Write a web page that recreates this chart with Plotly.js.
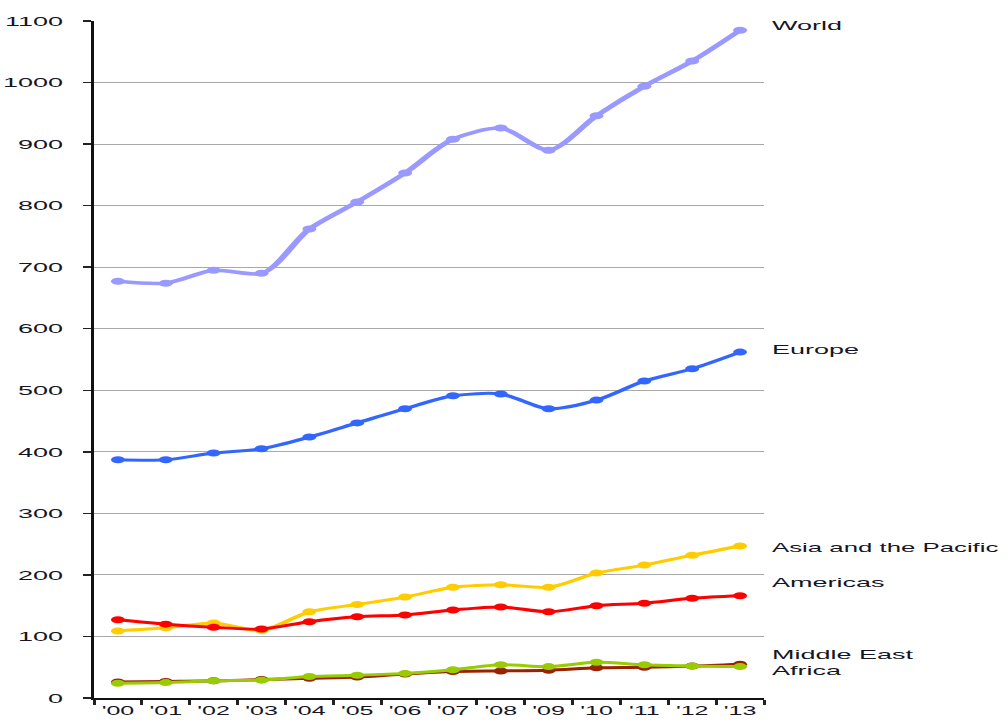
<!DOCTYPE html>
<html>
<head>
<meta charset="utf-8">
<script src="https://cdn.plot.ly/plotly-3.0.1.min.js"></script>
<style>
  html, body { margin: 0; padding: 0; background: #ffffff; overflow: hidden; width: 1008px; height: 722px; }
  #plot { width: 504px; height: 722px; transform: scaleX(2); transform-origin: 0 0; }
</style>
</head>
<body>
<div id="plot"></div>
<script>
// ---- data ----
const years = ["'00", "'01", "'02", "'03", "'04", "'05", "'06", "'07", "'08", "'09", "'10", "'11", "'12", "'13"];
const world = [677, 674, 695, 690, 762, 806, 853, 908, 926, 890, 946, 994, 1035, 1085];
const europe = [387, 387, 398, 405, 424, 447, 470, 491, 494, 470, 484, 515, 535, 562];
const asiaPacific = [109, 114, 122, 110, 140, 152, 164, 180, 184, 180, 203, 216, 232, 247];
const americas = [127, 120, 115, 112, 124, 132, 135, 143, 148, 140, 150, 154, 162, 166];
const africa = [26, 27, 28, 30, 32, 34, 39, 43, 44, 45, 49, 50, 52, 55];
const middleEast = [24, 25, 28, 29, 35, 37, 40, 46, 54, 51, 58, 54, 52, 51];
const seriesNames = ["World", "Europe", "Asia and the Pacific", "Americas", "Africa", "Middle East"];
const yTicks = [0, 100, 200, 300, 400, 500, 600, 700, 800, 900, 1000, 1100];

// ---- styles ----
const seriesValues = [world, europe, asiaPacific, americas, africa, middleEast];
const colors = ["#9999ff", "#3366ff", "#ffcc00", "#ff0000", "#992200", "#99cc00"];
const widths = [3.5, 3, 3, 3, 3, 3];
const labelY = { "World": 1093, "Europe": 567, "Asia and the Pacific": 245, "Americas": 188, "Middle East": 71, "Africa": 44 };
const labelSize = { "Asia and the Pacific": 12.9 };

const traces = seriesNames.map((name, i) => ({
  type: 'scatter',
  mode: 'lines+markers',
  name: name,
  x: years,
  y: seriesValues[i],
  line: { color: colors[i], width: widths[i], shape: 'spline', smoothing: 0.8 },
  marker: { color: colors[i], size: 7 },
  hoverinfo: 'skip'
}));

const textFont = { family: 'Liberation Sans, Arial, sans-serif', size: 13.5, color: '#151525' };

const annotations = Object.keys(labelY).map(name => ({
  xref: 'paper', yref: 'y',
  x: 1.006, y: labelY[name],
  xanchor: 'left', yanchor: 'middle',
  text: name, showarrow: false,
  font: Object.assign({}, textFont, { size: labelSize[name] || textFont.size })
}));

const layout = {
  width: 504, height: 722,
  margin: { l: 46.5, r: 121.5, t: 21, b: 24 },
  paper_bgcolor: '#ffffff', plot_bgcolor: '#ffffff',
  showlegend: false,
  font: textFont,
  xaxis: {
    type: 'category',
    range: [-0.5, 13.5],
    tickson: 'boundaries',
    tickangle: 0,
    ticks: 'outside', ticklen: 5, tickwidth: 1.5, tickcolor: '#222222',
    showline: true, linecolor: '#111111', linewidth: 2,
    showgrid: false, zeroline: false,
    tickfont: { family: 'Liberation Sans, Arial, sans-serif', size: 12.5, color: '#151525' },
    fixedrange: true
  },
  yaxis: {
    range: [0, 1100],
    tickvals: yTicks,
    ticktext: yTicks.map(String),
    ticks: 'outside', ticklen: 4, tickwidth: 1.5, tickcolor: '#222222',
    ticklabelstandoff: 7,
    showline: true, linecolor: '#111111', linewidth: 1.75,
    showgrid: true, gridcolor: '#a8a8a8', gridwidth: 1,
    zeroline: false,
    tickfont: textFont,
    fixedrange: true
  },
  annotations: annotations
};

Plotly.newPlot('plot', traces, layout, { displayModeBar: false, staticPlot: true });
</script>
</body>
</html>
